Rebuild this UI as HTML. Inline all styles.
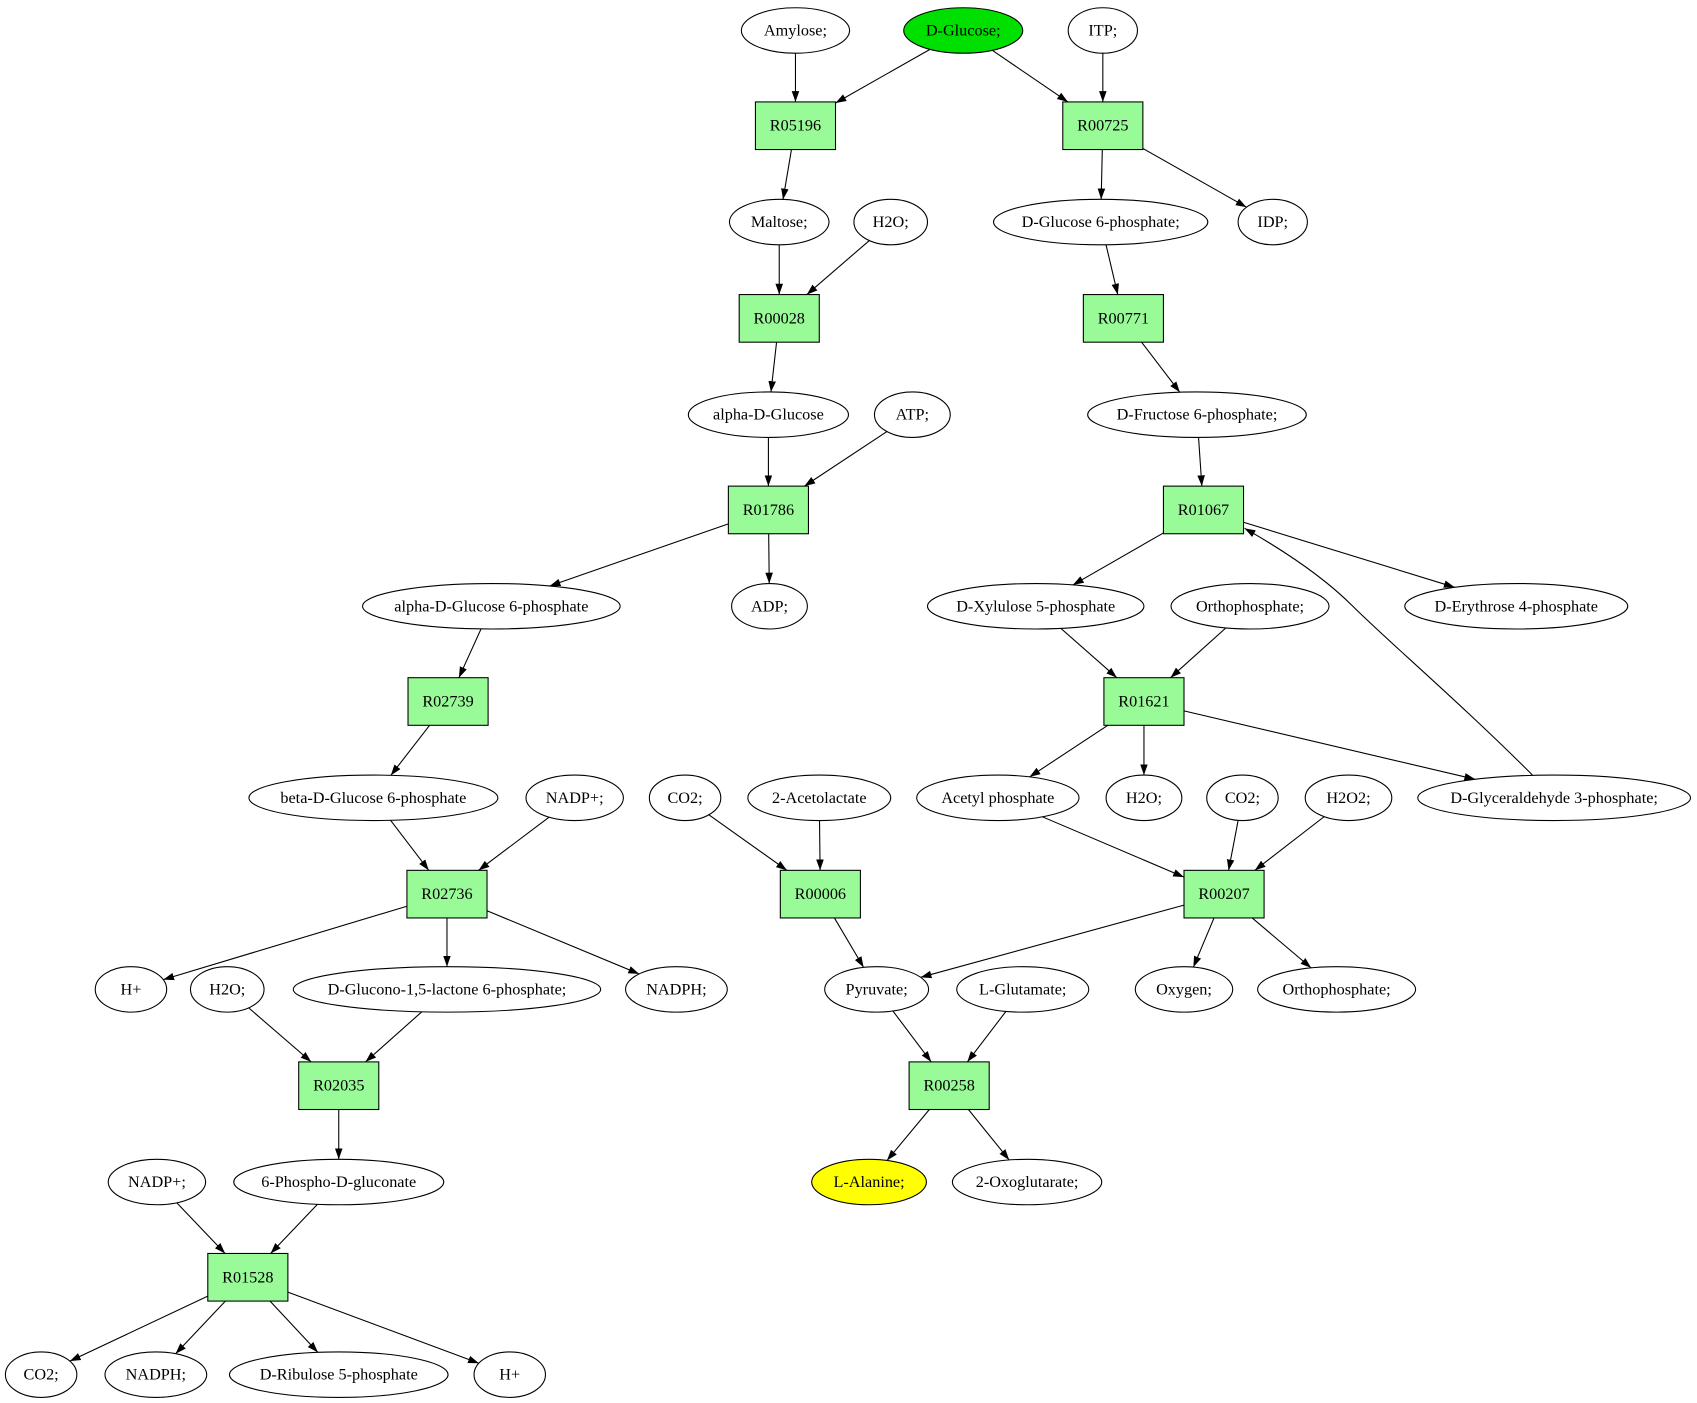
<!DOCTYPE html>
<html><head><meta charset="utf-8"><style>
html,body{margin:0;padding:0;background:#fff;}
svg{display:block;}
text{font-family:"Liberation Serif",serif;font-size:15px;text-anchor:middle;dominant-baseline:central;}
</style></head><body>
<svg id="s" width="1697" height="1403" viewBox="0 0 1568 1296" xmlns="http://www.w3.org/2000/svg">
<defs><marker id="a" viewBox="0 0 10 10" refX="10" refY="5" markerWidth="10" markerHeight="10" markerUnits="userSpaceOnUse" orient="auto"><path d="M0,1.5 L10,5 L0,8.5 z" fill="#000"/></marker></defs>
<g id="edges" stroke="#000" stroke-width="1" fill="none"></g>
<g id="nodes" stroke="#000" stroke-width="1"></g>
<g id="labels"></g>
</svg>
<script>
var N={
amy:['e',735,28,50,'Amylose;'],glc:['e',890,28,55,'D-Glucose;','#00e000'],itp:['e',1019,28,32,'ITP;'],
r05196:['b',735,116,0,'R05196'],r00725:['b',1019,116,0,'R00725'],
mal:['e',720,205,46,'Maltose;'],h2oa:['e',823,205,34,'H2O;'],g6p:['e',1017,205,99,'D-Glucose 6-phosphate;'],idp:['e',1176,205,32,'IDP;'],
r00028:['b',720,294,0,'R00028'],r00771:['b',1038,294,0,'R00771'],
adg:['e',710,383,74,'alpha-D-Glucose'],atp:['e',843,383,35,'ATP;'],f6p:['e',1106,383,101,'D-Fructose 6-phosphate;'],
r01786:['b',710,471,0,'R01786'],r01067:['b',1112,471,0,'R01067'],
ag6p:['e',454,560,119,'alpha-D-Glucose 6-phosphate'],adp:['e',711,560,35,'ADP;'],xyl:['e',957,560,100,'D-Xylulose 5-phosphate'],orth:['e',1155,560,73,'Orthophosphate;'],ery:['e',1401,560,103,'D-Erythrose 4-phosphate'],
r02739:['b',414,648,0,'R02739'],r01621:['b',1057,648,0,'R01621'],
bg6p:['e',345,737,115,'beta-D-Glucose 6-phosphate'],nadpa:['e',531,737,45,'NADP+;'],co2a:['e',633,737,33,'CO2;'],acl:['e',757,737,66,'2-Acetolactate'],acp:['e',922,737,75,'Acetyl phosphate'],h2ob:['e',1057,737,35,'H2O;'],co2b:['e',1148,737,33,'CO2;'],h2o2:['e',1246,737,40,'H2O2;'],gap:['e',1436,737,126,'D-Glyceraldehyde 3-phosphate;'],
r02736:['b',413,826,0,'R02736'],r00006:['b',758,826,0,'R00006'],r00207:['b',1131,826,0,'R00207'],
hpa:['e',121,914,33,'H+'],h2oc:['e',210,914,34,'H2O;'],glo:['e',413,914,142,'D-Glucono-1,5-lactone 6-phosphate;'],nadpha:['e',625,914,47,'NADPH;'],pyr:['e',810,914,48,'Pyruvate;'],glu:['e',945,914,61,'L-Glutamate;'],oxy:['e',1094,914,45,'Oxygen;'],orth2:['e',1235,914,73,'Orthophosphate;'],
r02035:['b',313,1003,0,'R02035'],r00258:['b',877,1003,0,'R00258'],
nadpb:['e',145,1092,45,'NADP+;'],pg:['e',313,1092,97,'6-Phospho-D-gluconate'],ala:['e',803,1092,53,'L-Alanine;','#ffff00'],oxo:['e',949,1092,69,'2-Oxoglutarate;'],
r01528:['b',229,1180,0,'R01528'],
co2c:['e',38,1270,33,'CO2;'],nadphb:['e',144,1270,47,'NADPH;'],rib:['e',313,1270,101,'D-Ribulose 5-phosphate'],hpb:['e',471,1270,33,'H+']
};
var E=[['amy','r05196'],['glc','r05196'],['glc','r00725'],['itp','r00725'],['r05196','mal'],['r00725','g6p'],['r00725','idp'],
['mal','r00028'],['h2oa','r00028'],['g6p','r00771'],['r00028','adg'],['r00771','f6p'],['adg','r01786'],['atp','r01786'],['f6p','r01067'],
['r01786','ag6p'],['r01786','adp'],['r01067','xyl'],['r01067','ery'],['xyl','r01621'],['orth','r01621'],['ag6p','r02739'],
['r01621','acp'],['r01621','h2ob'],['r01621','gap'],['r02739','bg6p'],['bg6p','r02736'],['nadpa','r02736'],['co2a','r00006'],['acl','r00006'],
['acp','r00207'],['co2b','r00207'],['h2o2','r00207'],['r02736','hpa'],['r02736','glo'],['r02736','nadpha'],['r00006','pyr'],['r00207','pyr'],
['r00207','oxy'],['r00207','orth2'],['h2oc','r02035'],['glo','r02035'],['pyr','r00258'],['glu','r00258'],['r02035','pg'],['r00258','ala'],['r00258','oxo'],
['nadpb','r01528'],['pg','r01528'],['r01528','co2c'],['r01528','nadphb'],['r01528','rib'],['r01528','hpb']];
var ns='http://www.w3.org/2000/svg';
function el(t,a,p){var e=document.createElementNS(ns,t);for(var k in a)e.setAttribute(k,a[k]);document.getElementById(p).appendChild(e);return e;}
function bnd(n,dx,dy){ // distance factor t along (dx,dy) from center to boundary
 if(n[0]=='b'){var hw=37,hh=22;return Math.min(dx?hw/Math.abs(dx):1e9,dy?hh/Math.abs(dy):1e9);}
 var rx=n[3],ry=21;return 1/Math.sqrt(dx*dx/(rx*rx)+dy*dy/(ry*ry));}
for(var k in N){var n=N[k];
 if(n[0]=='b')el('rect',{x:n[1]-37,y:n[2]-22,width:74,height:44,fill:'#98fb98'},'nodes');
 else el('ellipse',{cx:n[1],cy:n[2],rx:n[3],ry:21,fill:n[5]||'#fff'},'nodes');
}
E.forEach(function(e){var a=N[e[0]],b=N[e[1]];var dx=b[1]-a[1],dy=b[2]-a[2];
 var t1=bnd(a,dx,dy),t2=bnd(b,-dx,-dy);
 el('line',{x1:a[1]+dx*t1,y1:a[2]+dy*t1,x2:b[1]-dx*t2,y2:b[2]-dy*t2,'marker-end':'url(#a)'},'edges');});
el('path',{d:'M1416,716 C1350,650 1280,590 1250,560 C1220,530 1180,505 1150,488','marker-end':'url(#a)'},'edges');
</script>
<svg width="0" height="0"></svg>
<script>
var L=document.createElementNS('http://www.w3.org/2000/svg','g');
</script>
<div style="display:none"></div>
<script>
(function(){var s=document.getElementById('labels');for(var k in N){var n=N[k];var t=document.createElementNS(ns,'text');t.setAttribute('x',n[1]);t.setAttribute('y',n[2]);t.textContent=n[4];s.appendChild(t);}})();
</script>
</body></html>
